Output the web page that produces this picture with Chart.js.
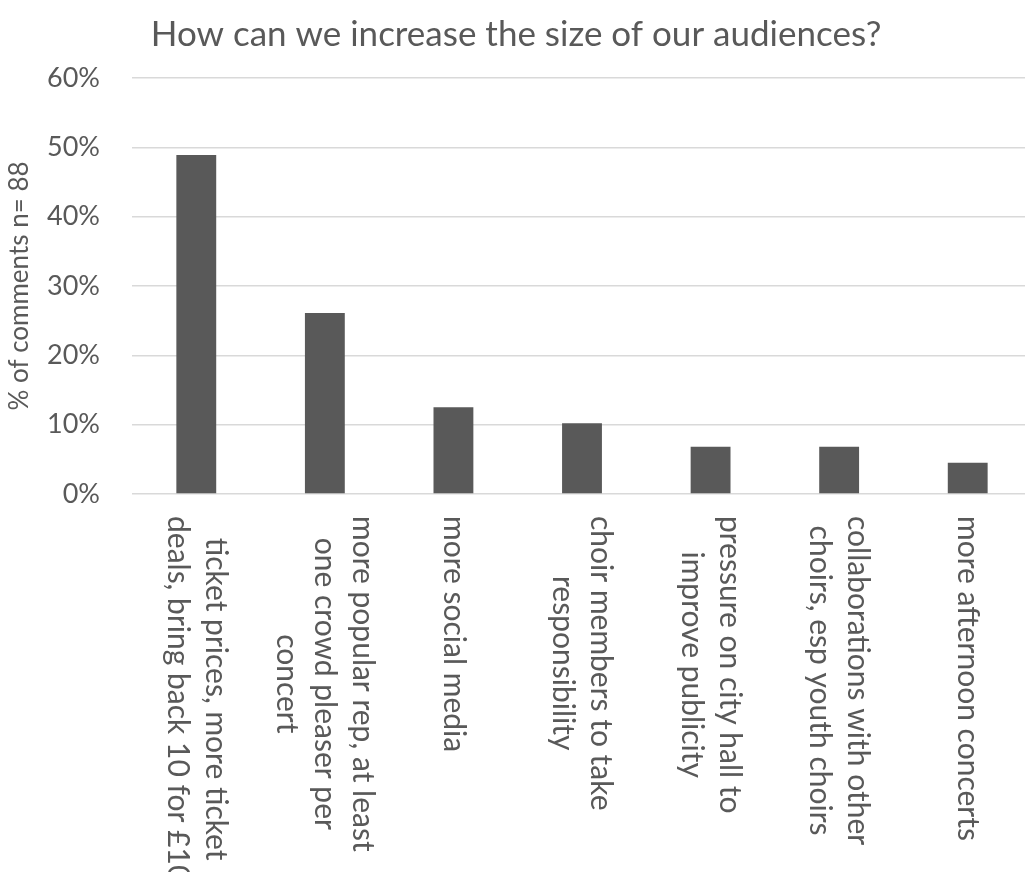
<!DOCTYPE html>
<html>
<head>
<meta charset="utf-8">
<script src="https://cdn.jsdelivr.net/npm/chart.js@4"></script>
<style>
  html, body { margin: 0; padding: 0; overflow: hidden; background: #fff; }
  #wrap { width: 1032px; height: 872px; }
</style>
</head>
<body>
<div id="wrap"><canvas id="audienceChart" width="1032" height="872"></canvas></div>
<script>
const FONT = "Lato, 'Open Sans', sans-serif";
const GREY = "#595959";

// each category is a list of lines, first line is drawn rightmost
const categories = [
    ["ticket prices, more ticket", "deals, bring back 10 for £10"],
    ["more popular rep, at least", "one crowd pleaser per", "concert"],
    ["more social media"],
    ["choir members to take", "responsibility"],
    ["pressure on city hall to", "improve publicity"],
    ["collaborations with other", "choirs, esp youth choirs"],
    ["more afternoon concerts"]
];
const shares = [48.9, 26.1, 12.5, 10.2, 6.8, 6.8, 4.5];
const yTicks = [0, 10, 20, 30, 40, 50, 60];

// x labels read top to bottom, so they are drawn here instead of by the scale
const verticalLabels = {
    id: "verticalLabels",
    afterDraw(chart) {
        const { ctx, scales: { x }, chartArea } = chart;
        const size = 30;
        const lineHeight = 38;
        ctx.save();
        ctx.font = `${size}px ${FONT}`;
        ctx.fillStyle = GREY;
        ctx.textAlign = "center";
        ctx.textBaseline = "middle";
        categories.forEach((lines, i) => {
            const px = x.getPixelForValue(i);
            const longest = Math.max(...lines.map(l => ctx.measureText(l).width));
            ctx.save();
            ctx.translate(px, chartArea.bottom + 22);
            ctx.rotate(Math.PI / 2);
            lines.forEach((line, j) => {
                const off = (j - (lines.length - 1) / 2) * lineHeight;
                ctx.fillText(line, longest / 2, off);
            });
            ctx.restore();
        });
        ctx.restore();
    }
};

const ctx = document.getElementById("audienceChart");

new Chart(ctx, {
    type: "bar",
    data: {
        labels: categories,
        datasets: [{
            data: shares,
            backgroundColor: GREY,
            categoryPercentage: 1,
            barPercentage: 0.31
        }]
    },
    options: {
        responsive: false,
        animation: false,
        layout: { padding: { top: 0, bottom: 378, left: 0, right: 0 } },
        plugins: {
            legend: { display: false },
            tooltip: { enabled: false },
            title: {
                display: true,
                text: "How can we increase the size of our audiences?",
                color: GREY,
                font: { family: FONT, size: 35, weight: "normal" },
                padding: { top: 14, bottom: 22 }
            }
        },
        scales: {
            x: {
                grid: { display: false, drawTicks: false },
                border: { display: false },
                ticks: { display: false }
            },
            y: {
                min: 0,
                max: 60,
                afterBuildTicks(scale) {
                    scale.ticks = yTicks.map(v => ({ value: v }));
                },
                afterFit(scale) {
                    scale.width = 132;
                },
                ticks: {
                    color: GREY,
                    padding: 32,
                    font: { family: FONT, size: 27 },
                    callback: v => v + "%"
                },
                grid: { color: "#d9d9d9", lineWidth: 1.5, drawTicks: false },
                border: { display: false },
                title: {
                    display: true,
                    text: "% of comments n= 88",
                    color: GREY,
                    font: { family: FONT, size: 26 },
                    padding: { top: 4, bottom: 0 }
                }
            }
        }
    },
    plugins: [verticalLabels]
});
</script>
</body>
</html>
